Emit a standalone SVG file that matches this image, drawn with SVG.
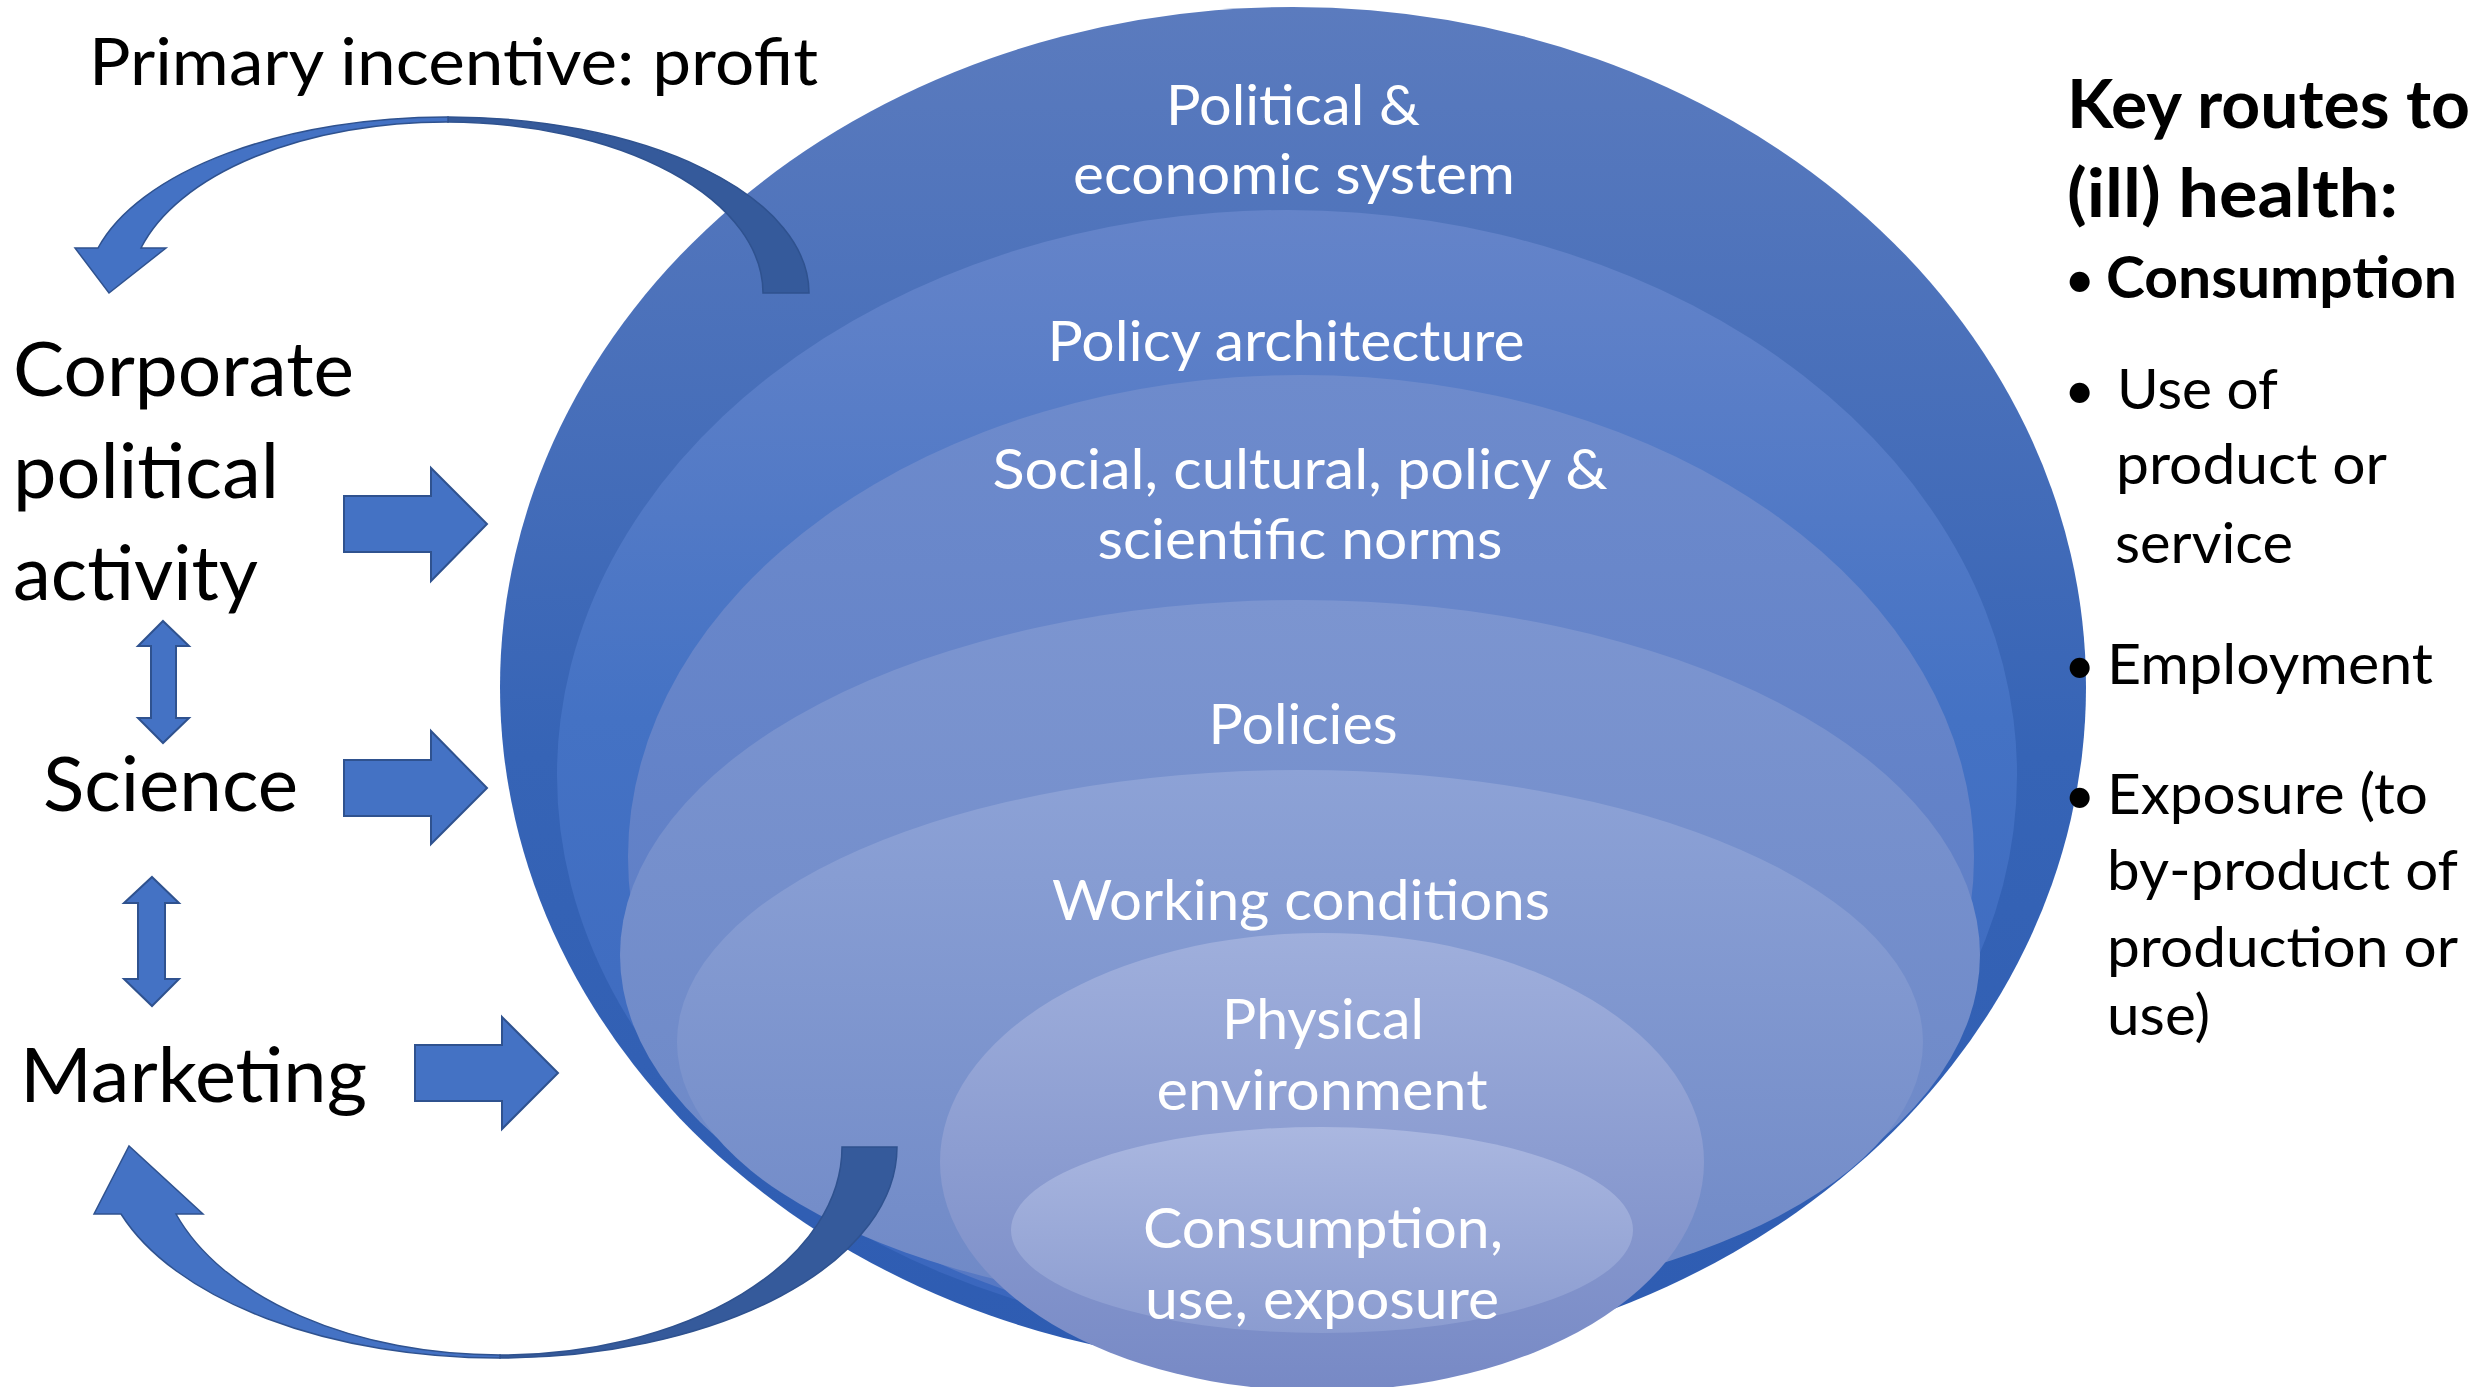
<svg xmlns="http://www.w3.org/2000/svg" width="2479" height="1387" viewBox="0 0 2479 1387">
  <defs>
    <linearGradient id="g1" x1="0" y1="0" x2="0" y2="1">
      <stop offset="0" stop-color="#5b7bbe"/>
      <stop offset="0.55" stop-color="#3664b6"/>
      <stop offset="1" stop-color="#2e5cb2"/>
    </linearGradient>
    <linearGradient id="g2" x1="0" y1="0" x2="0" y2="1">
      <stop offset="0" stop-color="#6584c9"/>
      <stop offset="0.45" stop-color="#4472c4"/>
      <stop offset="1" stop-color="#3a66bd"/>
    </linearGradient>
    <linearGradient id="g3" x1="0" y1="0" x2="0" y2="1">
      <stop offset="0" stop-color="#6e8bcc"/>
      <stop offset="1" stop-color="#5577c3"/>
    </linearGradient>
    <linearGradient id="g4" x1="0" y1="0" x2="0" y2="1">
      <stop offset="0" stop-color="#7c95d0"/>
      <stop offset="1" stop-color="#6a86c6"/>
    </linearGradient>
    <linearGradient id="g5" x1="0" y1="0" x2="0" y2="1">
      <stop offset="0" stop-color="#8da2d6"/>
      <stop offset="1" stop-color="#6e88c6"/>
    </linearGradient>
    <linearGradient id="g6" x1="0" y1="0" x2="0" y2="1">
      <stop offset="0" stop-color="#9fafdc"/>
      <stop offset="1" stop-color="#7789c5"/>
    </linearGradient>
    <linearGradient id="g7" x1="0" y1="0" x2="0" y2="1">
      <stop offset="0" stop-color="#aab7e0"/>
      <stop offset="1" stop-color="#8b9cd0"/>
    </linearGradient>
    <style>
      .lbl { font-family: Lato, "Open Sans", sans-serif; fill: #ffffff; font-size: 56px; text-anchor: middle; }
      .blk { font-family: Lato, "Open Sans", sans-serif; fill: #000000; }
      .big { font-size: 75px; }
      .top { font-size: 65px; }
      .head { font-size: 66px; font-weight: bold; }
      .item { font-size: 57px; }
      .bold { font-weight: bold; }
      .bul { font-size: 54px; }
      .blockarrow { fill: #4472c4; stroke: #2f528f; stroke-width: 2; }
      .curve-front { fill: #4472c4; stroke: #2f528f; stroke-width: 1.5; }
      .curve-back { fill: #355a9b; stroke: #2f528f; stroke-width: 1.5; }
    </style>
  </defs>

  <rect x="0" y="0" width="2479" height="1387" fill="#ffffff"/>

  <g id="layer-political-economic-system">
    <ellipse cx="1293" cy="687" rx="793" ry="680" fill="url(#g1)"/>
    <text class="lbl" x="1293" y="125" textLength="254" lengthAdjust="spacingAndGlyphs">Political &amp;</text>
    <text class="lbl" x="1294" y="194" textLength="442" lengthAdjust="spacingAndGlyphs">economic system</text>
  </g>
  <g id="layer-policy-architecture">
    <ellipse cx="1287" cy="775" rx="730" ry="565" fill="url(#g2)"/>
    <text class="lbl" x="1286" y="361" textLength="477" lengthAdjust="spacingAndGlyphs">Policy architecture</text>
  </g>
  <g id="layer-norms">
    <ellipse cx="1301" cy="857" rx="673" ry="482" fill="url(#g3)"/>
    <text class="lbl" x="1300" y="489" textLength="615" lengthAdjust="spacingAndGlyphs">Social, cultural, policy &amp;</text>
    <text class="lbl" x="1300" y="559" textLength="405" lengthAdjust="spacingAndGlyphs">scientific norms</text>
  </g>
  <g id="layer-policies">
    <ellipse cx="1300" cy="955" rx="680" ry="355" fill="url(#g4)"/>
    <text class="lbl" x="1303" y="744" textLength="189" lengthAdjust="spacingAndGlyphs">Policies</text>
  </g>
  <g id="layer-working-conditions">
    <ellipse cx="1300" cy="1042" rx="623" ry="272" fill="url(#g5)"/>
    <text class="lbl" x="1301" y="920" textLength="498" lengthAdjust="spacingAndGlyphs">Working conditions</text>
  </g>
  <g id="layer-physical-environment">
    <ellipse cx="1322" cy="1162" rx="382" ry="229" fill="url(#g6)"/>
    <text class="lbl" x="1323" y="1039" textLength="202" lengthAdjust="spacingAndGlyphs">Physical</text>
    <text class="lbl" x="1322" y="1110" textLength="331" lengthAdjust="spacingAndGlyphs">environment</text>
  </g>
  <g id="layer-consumption">
    <ellipse cx="1322" cy="1230" rx="311" ry="103" fill="url(#g7)"/>
    <text class="lbl" x="1323" y="1248" textLength="360" lengthAdjust="spacingAndGlyphs">Consumption,</text>
    <text class="lbl" x="1322" y="1319" textLength="354" lengthAdjust="spacingAndGlyphs">use, exposure</text>
  </g>

  <g id="label-incentive">
    <text class="blk top" x="89" y="85" textLength="729" lengthAdjust="spacingAndGlyphs">Primary incentive: profit</text>
  </g>
  <g id="node-corporate-political-activity">
    <text class="blk big" x="13" y="396" textLength="341" lengthAdjust="spacingAndGlyphs">Corporate</text>
    <text class="blk big" x="13" y="498" textLength="266" lengthAdjust="spacingAndGlyphs">political</text>
    <text class="blk big" x="13" y="600" textLength="245" lengthAdjust="spacingAndGlyphs">activity</text>
  </g>
  <g id="node-science">
    <text class="blk big" x="43" y="811" textLength="255" lengthAdjust="spacingAndGlyphs">Science</text>
  </g>
  <g id="node-marketing">
    <text class="blk big" x="20" y="1102" textLength="347" lengthAdjust="spacingAndGlyphs">Marketing</text>
  </g>

  <g id="key-routes">
    <text class="blk head" x="2067" y="128" textLength="403" lengthAdjust="spacingAndGlyphs">Key routes to</text>
    <text class="blk head" x="2067" y="217" textLength="331" lengthAdjust="spacingAndGlyphs">(ill) health:</text>
    <text class="blk bul" x="2064" y="298">•</text>
    <text class="blk item bold" x="2106" y="298" textLength="351" lengthAdjust="spacingAndGlyphs">Consumption</text>
    <text class="blk bul" x="2064" y="409">•</text>
    <text class="blk item" x="2117" y="409" textLength="161" lengthAdjust="spacingAndGlyphs">Use of</text>
    <text class="blk item" x="2116" y="484" textLength="271" lengthAdjust="spacingAndGlyphs">product or</text>
    <text class="blk item" x="2115" y="563" textLength="178" lengthAdjust="spacingAndGlyphs">service</text>
    <text class="blk bul" x="2064" y="684">•</text>
    <text class="blk item" x="2107" y="684" textLength="326" lengthAdjust="spacingAndGlyphs">Employment</text>
    <text class="blk bul" x="2064" y="814">•</text>
    <text class="blk item" x="2107" y="814" textLength="321" lengthAdjust="spacingAndGlyphs">Exposure (to</text>
    <text class="blk item" x="2107" y="890" textLength="351" lengthAdjust="spacingAndGlyphs">by-product of</text>
    <text class="blk item" x="2107" y="967" textLength="351" lengthAdjust="spacingAndGlyphs">production or</text>
    <text class="blk item" x="2107" y="1035" textLength="103" lengthAdjust="spacingAndGlyphs">use)</text>
  </g>

  <g id="connectors">
    <polygon class="blockarrow" points="344,496 431,496 431,468 487,524 431,581 431,552 344,552"/>
    <polygon class="blockarrow" points="344,760 431,760 431,731 487,788 431,844 431,816 344,816"/>
    <polygon class="blockarrow" points="415,1045 502,1045 502,1017 558,1073 502,1129 502,1101 415,1101"/>
    <polygon class="blockarrow" points="163,621 189,646 176,646 176,718 189,718 163,743 138,718 151,718 151,646 138,646"/>
    <polygon class="blockarrow" points="152,877 179,903 165,903 165,979 179,979 152,1006 124,979 138,979 138,903 124,903"/>
    <path class="curve-back" d="M 809,293 A 361 176 0 0 0 448,117 L 448,122 A 316 171 0 0 1 763,293 Z"/>
    <path class="curve-front" d="M 448,117 A 361 176 0 0 0 98,248 L 75,248 L 109,293 L 166,248 L 141,248 A 316 171 0 0 1 448,122 Z"/>
    <path class="curve-back" d="M 897,1147 A 398 211 0 0 1 500,1358 L 500,1355 A 342 208 0 0 0 842,1147 Z"/>
    <path class="curve-front" d="M 500,1358 A 398 211 0 0 1 121,1214 L 94,1214 L 129,1146 L 203,1214 L 176,1214 A 342 208 0 0 0 500,1355 Z"/>
  </g>
</svg>
